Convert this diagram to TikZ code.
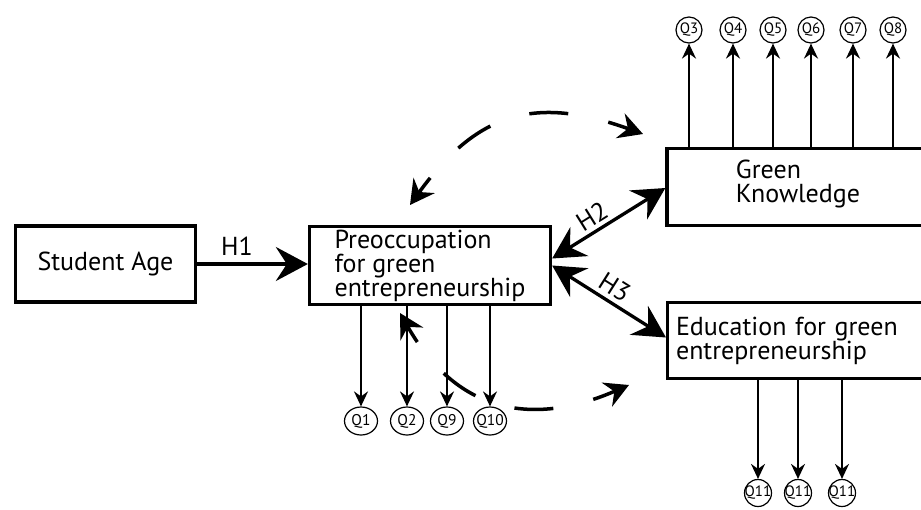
\documentclass[tikz,border=0pt]{standalone}
\usepackage{fontspec}
\setmainfont{PT Sans}
\usetikzlibrary{arrows.meta,calc,shapes.geometric}
\newcommand{\qtxt}[1]{\makebox[0pt]{#1}}
\tikzset{
  htip/.tip={Stealth[length=32pt,width=34pt,inset=11pt]},
  dtip/.tip={Stealth[length=24pt,width=26pt,inset=8pt]},
  qtip/.tip={Stealth[length=15pt,width=14pt,inset=5pt]},
  box/.style={draw,line width=3.3pt,inner sep=0pt,font=\fontsize{26}{24}\selectfont,align=left},
  qc/.style={draw,circle,line width=1.2pt,inner sep=0pt,font=\fontsize{15}{15}\selectfont},
  qe/.style={draw,ellipse,line width=1.2pt,inner sep=0pt,minimum width=33pt,minimum height=28pt,font=\fontsize{15.5}{15.5}\selectfont},
  qarrow/.style={line width=2pt,-qtip},
  harrow/.style={line width=3.3pt,-htip},
  hboth/.style={line width=3.3pt,htip-htip},
  dasharc/.style={line width=3.5pt,dash pattern=on 39pt off 41pt,dash phase=20pt,dtip-dtip},
  hlab/.style={font=\fontsize{26}{26}\selectfont,inner sep=0pt}
}
\begin{document}
\begin{tikzpicture}[x=1pt,y=-1pt]
\useasboundingbox (0,0) rectangle (921,509);
\clip (0,0) rectangle (921,509);
% main boxes
\node[box,minimum width=180pt,minimum height=76pt] (sa) at (105.5,264) {Student Age};
\node[box,minimum width=241pt,minimum height=78pt] (pre) at (430,265.5) {Preoccupation\\for green\\entrepreneurship};
\node[box,minimum width=262pt,minimum height=77pt] (gk) at (798,187) {Green\\Knowledge\rule[-12pt]{0pt}{1pt}};
\node[box,anchor=west,text width=240pt,inner xsep=8.4pt,minimum height=76pt] (edu) at (666,340.5) {Education for green\\entrepreneurship};
% hypotheses
\draw[harrow] (sa.east) -- (sa.east -| pre.west) node[hlab,anchor=base,pos=0.36,yshift=9pt] {H1};
\draw[hboth] ($(pre.east)+(0,-7)$) -- ($(gk.west)+(0,1)$) node[hlab,sloped,pos=0.42,above=4pt] {H2};
\draw[hboth] (pre.east) -- ($(edu.west)+(0,-3)$) node[hlab,sloped,pos=0.48,above=4pt] {H3};
% top indicators
\node[qc,minimum size=26pt] (q3) at (689,30) {\qtxt{Q3}};
\node[qc,minimum size=26pt] (q4) at (733,30) {\qtxt{Q4}};
\node[qc,minimum size=26pt] (q5) at (773,30) {\qtxt{Q5}};
\node[qc,minimum size=26pt] (q6) at (811,30) {\qtxt{Q6}};
\node[qc,minimum size=26pt] (q7) at (853,30) {\qtxt{Q7}};
\node[qc,minimum size=26pt] (q8) at (893,30) {\qtxt{Q8}};
\foreach \q in {q3,q4,q5,q6,q7,q8}{\draw[qarrow] (\q |- gk.north) -- (\q);}
% bottom indicators
\node[qe] (q1) at (361,421) {\qtxt{Q1}};
\node[qe] (q2) at (407,421) {\qtxt{Q2}};
\node[qe] (q9) at (447,421) {\qtxt{Q9}};
\node[qe] (q10) at (490,421) {\qtxt{Q10}};
\foreach \q in {q1,q2,q9,q10}{\draw[qarrow] (\q |- pre.south) -- (\q);}
% education indicators
\node[qc,minimum size=27pt] (q11a) at (758,493) {\qtxt{Q11}};
\node[qc,minimum size=27pt] (q11b) at (798,493) {\qtxt{Q11}};
\node[qc,minimum size=27pt] (q11c) at (842,493) {\qtxt{Q11}};
\foreach \q in {q11a,q11b,q11c}{\draw[qarrow] (\q |- edu.south) -- (\q);}
% dashed arcs
\coordinate (ta) at (410,205);
\coordinate (tb) at (643,134);
\draw[dasharc] (ta) .. controls (480,108) and (540,97) .. (tb);
\coordinate (ba) at (400,313);
\coordinate (bb) at (629,385);
\draw[dasharc] (ba) .. controls (459,417) and (537,425) .. (bb);
\end{tikzpicture}
\end{document}
